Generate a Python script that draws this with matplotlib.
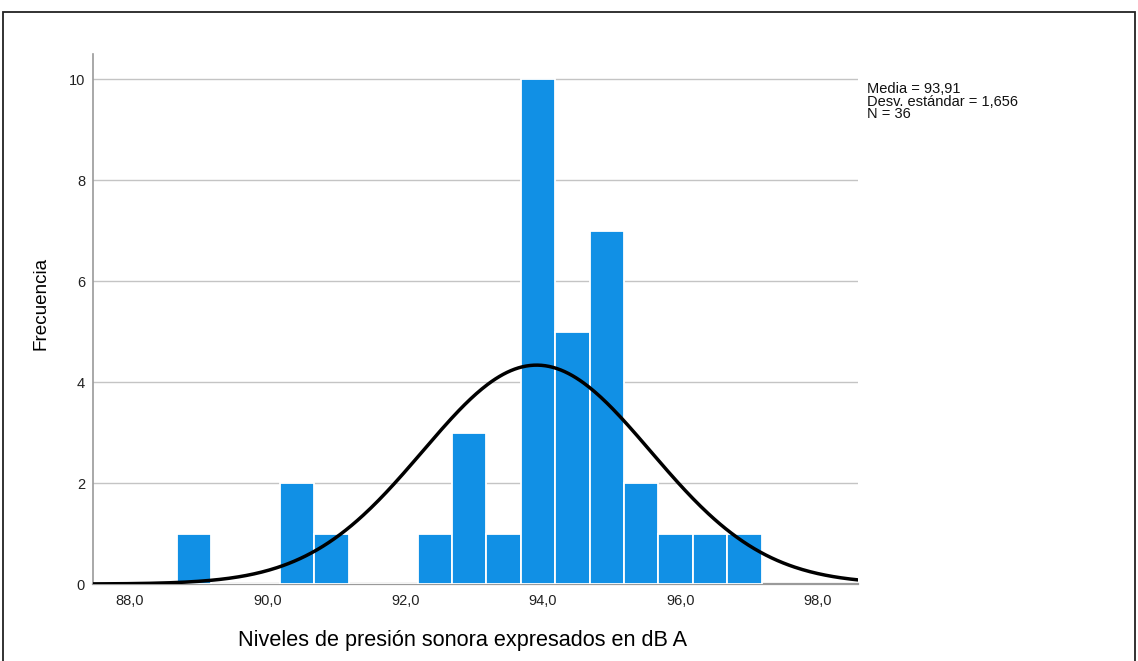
import numpy as np
import matplotlib
matplotlib.use("Agg")
import matplotlib.pyplot as plt
from matplotlib.patches import Rectangle

# Data
bin_start = 88.68
bin_width = 0.5
counts = [1, 0, 0, 2, 1, 0, 0, 1, 3, 1, 10, 5, 7, 2, 1, 1, 1]
mean = 93.91
std = 1.656
n = 36
x_ticks = [88.0, 90.0, 92.0, 94.0, 96.0, 98.0]
x_tick_labels = ["88,0", "90,0", "92,0", "94,0", "96,0", "98,0"]
y_ticks = [0, 2, 4, 6, 8, 10]

plt.rcParams['font.family'] = ['Liberation Sans', 'DejaVu Sans']

fig = plt.figure(figsize=(11.38, 6.61), dpi=100)
fig.patches.append(Rectangle((3 / 1138, -0.05), (1135 - 3) / 1138, (661 - 12) / 661 + 0.05,
                             transform=fig.transFigure, fill=False,
                             edgecolor='#222222', linewidth=1.3, zorder=10))

ax = fig.add_axes([92.7 / 1138, (661 - 584) / 661, (858 - 92.7) / 1138, (584 - 54) / 661])

lefts = [bin_start + i * bin_width for i in range(len(counts))]
ax.bar(lefts, counts, width=bin_width, align='edge', color='#1190e5',
       edgecolor='white', linewidth=1.3, zorder=3)

xs = np.linspace(87.46, 98.58, 400)
pdf = n * bin_width * np.exp(-0.5 * ((xs - mean) / std) ** 2) / (std * np.sqrt(2 * np.pi))
ax.plot(xs, pdf, color='black', linewidth=2.5, zorder=4, solid_capstyle='round')

ax.set_xlim(87.46, 98.58)
ax.set_ylim(0, 10.5)
ax.set_xticks(x_ticks)
ax.set_xticklabels(x_tick_labels)
ax.set_yticks(y_ticks)
ax.tick_params(axis='x', length=0, labelsize=10.5, colors='#222222', pad=7)
ax.tick_params(axis='y', length=0, labelsize=10.5, colors='#222222', pad=5.5)
ax.yaxis.grid(True, color='#c4c4c4', linewidth=1.0, zorder=0)
ax.set_axisbelow(True)
for s in ['top', 'right']:
    ax.spines[s].set_visible(False)
ax.spines['left'].set_color('#9a9a9a')
ax.spines['bottom'].set_color('#9a9a9a')
ax.spines['left'].set_linewidth(1.2)
ax.spines['bottom'].set_linewidth(1.6)

ax.set_xlabel("Niveles de presión sonora expresados en dB A", fontsize=15.6)
ax.set_ylabel("Frecuencia", fontsize=13.6)
ax.xaxis.set_label_coords(0.483, -0.086)
ax.yaxis.set_label_coords(-0.057, 0.53)

fig.text(867 / 1138, 1 - 82 / 661,
         "Media = 93,91\nDesv. estándar = 1,656\nN = 36",
         fontsize=10.5, va='top', ha='left', linespacing=0.88, color='#111111')

fig.savefig("out.png", dpi=100)
